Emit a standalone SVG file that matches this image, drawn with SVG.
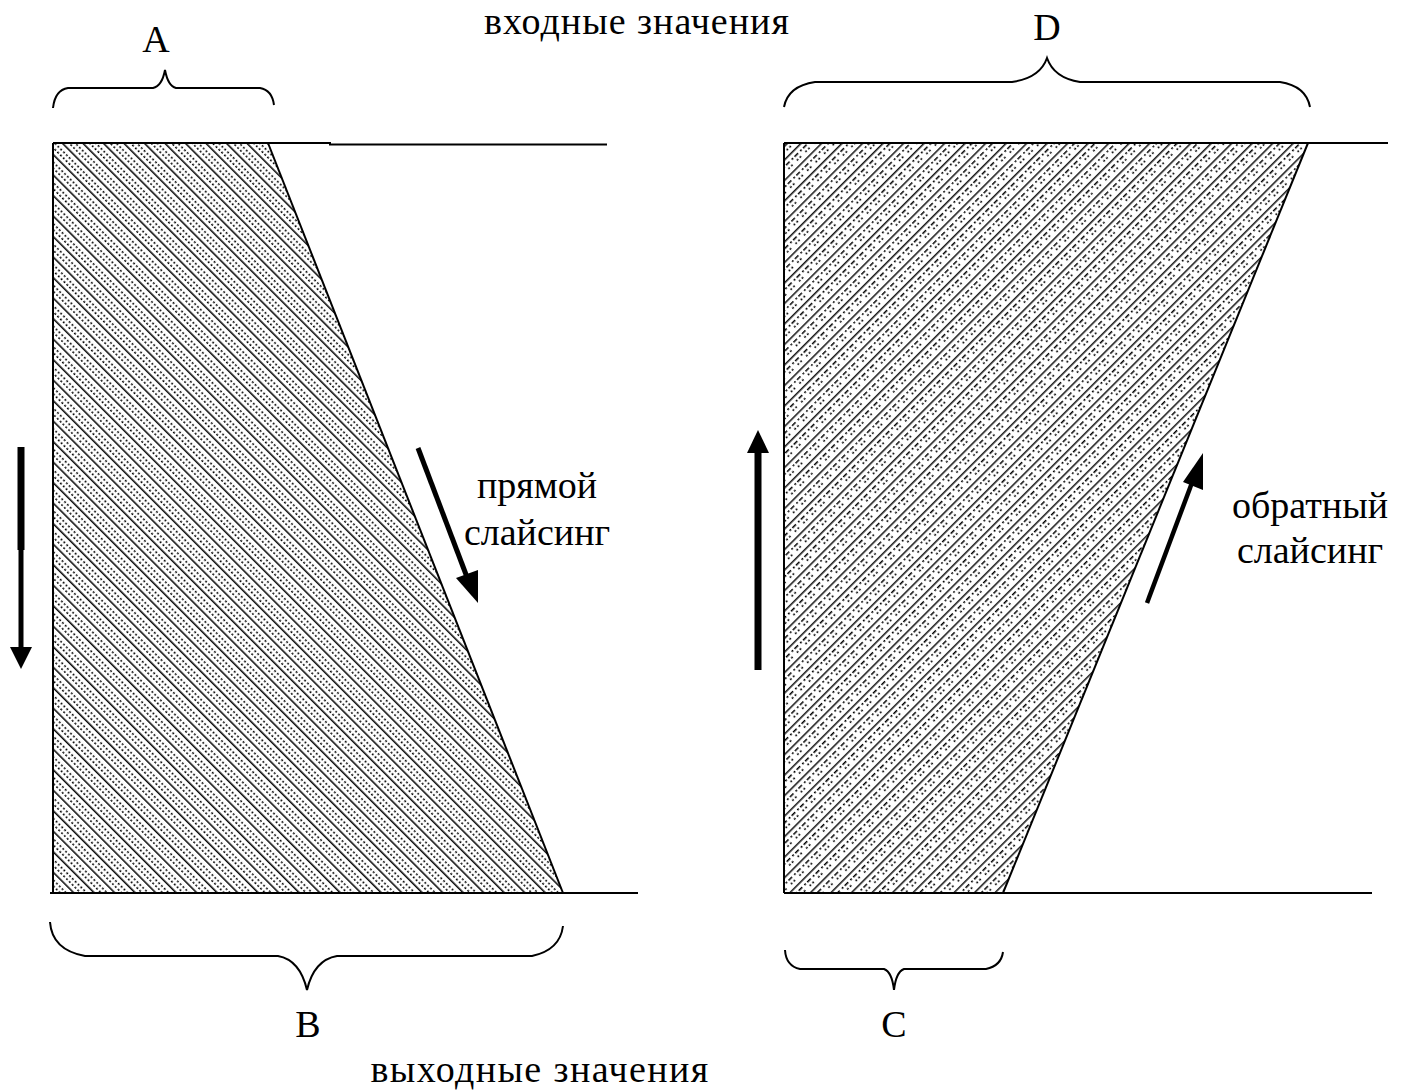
<svg xmlns="http://www.w3.org/2000/svg" width="1402" height="1090" viewBox="0 0 1402 1090">
<style>
.ln{stroke:#000;stroke-width:2;fill:none}
.br{stroke:#000;stroke-width:2;fill:none}
.t{font-family:"Liberation Serif","Times New Roman",serif;font-size:38px;fill:#000;text-anchor:middle}
.ar{stroke:#000;fill:none;stroke-linecap:butt}
</style>
<defs>
<pattern id="hl" patternUnits="userSpaceOnUse" width="14.5" height="12" patternTransform="rotate(-45)">
<line x1="0.8" y1="0" x2="0.8" y2="12" stroke="#000" stroke-width="1.5"/>
<line x1="5.6" y1="0" x2="5.6" y2="12" stroke="#000" stroke-width="1.5" stroke-dasharray="2 2"/>
<line x1="10" y1="0" x2="10" y2="12" stroke="#000" stroke-width="1.5" stroke-dasharray="2 2"/>
</pattern>
<pattern id="hr" patternUnits="userSpaceOnUse" width="14.5" height="12" patternTransform="rotate(45)">
<line x1="0.8" y1="0" x2="0.8" y2="12" stroke="#000" stroke-width="1.4"/>
<line x1="5.6" y1="0" x2="5.6" y2="12" stroke="#000" stroke-width="1.5" stroke-dasharray="5 2 2 3"/>
<line x1="10" y1="0" x2="10" y2="12" stroke="#000" stroke-width="1.5" stroke-dasharray="2 2 2 6"/>
</pattern>
</defs>

<text class="t" x="637" y="34" style="letter-spacing:1px">входные значения</text>
<text class="t" x="540" y="1082" style="letter-spacing:1.4px">выходные значения</text>

<g id="left-shape">
<polygon points="53,143 268,143 563,893 53,893" fill="url(#hl)" stroke="none"/>
<polyline class="ln" points="268,143 563,893"/>
<line class="ln" x1="53" y1="143" x2="53" y2="893"/>
<polyline class="ln" points="53,143 330,143 330,144.5 607,144.5"/>
<line class="ln" x1="50" y1="893" x2="638" y2="893"/>
</g>

<g id="right-shape">
<polygon points="784,143 1308,143 1003,893 784,893" fill="url(#hr)" stroke="none"/>
<polyline class="ln" points="1308,143 1003,893"/>
<line class="ln" x1="784" y1="143" x2="784" y2="893"/>
<line class="ln" x1="784" y1="143" x2="1388" y2="143"/>
<line class="ln" x1="784" y1="893" x2="1372" y2="893"/>
</g>

<g id="brace-A">
<path class="br" d="M53,108 Q55,90 68,88 L153,88 Q162,86 165,70 Q168,86 176,88 L260,88 Q272,90 274,105"/>
<text class="t" x="156" y="52">A</text>
</g>
<g id="brace-D">
<path class="br" d="M784,107 Q788,86 815,82 L1012,82 Q1040,78 1047,58 Q1054,78 1080,82 L1280,82 Q1306,86 1310,107"/>
<text class="t" x="1047" y="40">D</text>
</g>
<g id="brace-B">
<path class="br" d="M50,922 Q52,950 85,956 L278,956 Q300,960 307,990 Q314,960 337,956 L532,956 Q560,950 563,926"/>
<text class="t" x="308" y="1037">B</text>
</g>
<g id="brace-C">
<path class="br" d="M785,950 Q786,966 800,969 L884,969 Q892,972 894,990 Q896,972 904,969 L986,969 Q1001,966 1003,952"/>
<text class="t" x="894" y="1037">C</text>
</g>

<g id="labels">
<text class="t" x="537" y="498">прямой</text>
<text class="t" x="537" y="545">слайсинг</text>
<text class="t" x="1310" y="518">обратный</text>
<text class="t" x="1310" y="563">слайсинг</text>
</g>

<g id="connectors">
<line class="ar" x1="21" y1="447" x2="21" y2="550" stroke-width="7"/>
<line class="ar" x1="21" y1="548" x2="21" y2="650" stroke-width="5"/>
<path d="M10,647 L32,647 L21,669 z" fill="#000"/>
<line class="ar" x1="758" y1="670" x2="758" y2="450" stroke-width="7"/>
<path d="M747,453 L769,453 L758,430 z" fill="#000"/>
<line class="ar" x1="418" y1="448" x2="470" y2="585" stroke-width="5"/>
<path d="M456,578 L478,570 L478,603 z" fill="#000"/>
<line class="ar" x1="1147" y1="603" x2="1196" y2="472" stroke-width="4.5"/>
<path d="M1183,482 L1203,490 L1203,453 z" fill="#000"/>
</g>
</svg>
